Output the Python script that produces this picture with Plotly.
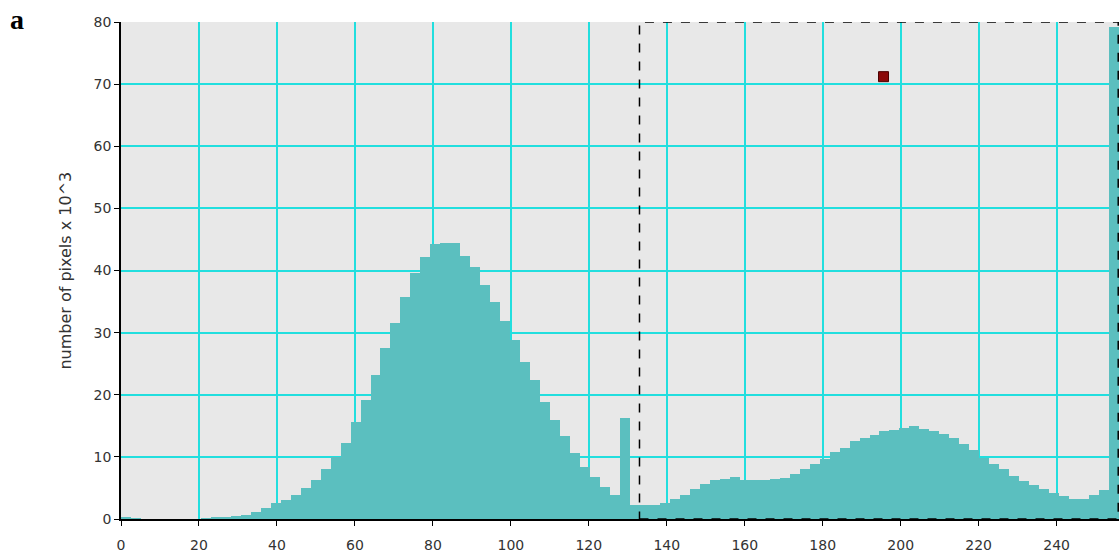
import numpy as np
import plotly.graph_objects as go

# histogram: 100 bins spanning 0..256 (values in thousands of pixels)
bin_edges = np.linspace(0, 256, 101)
counts = [
    0.3, 0.1, 0.0, 0.0, 0.0, 0.0, 0.0, 0.0, 0.15, 0.25,
    0.4, 0.5, 0.7, 1.2, 1.8, 2.5, 3.1, 3.9, 5.0, 6.3,
    8.1, 10.0, 12.3, 15.6, 19.2, 23.2, 27.5, 31.5, 35.8, 39.6,
    42.1, 44.3, 44.5, 44.5, 42.4, 40.5, 37.6, 35.0, 31.8, 28.8,
    25.3, 22.4, 18.9, 15.9, 13.3, 10.7, 8.4, 6.7, 5.2, 3.9,
    16.3, 2.3, 2.2, 2.2, 2.5, 3.3, 3.8, 4.8, 5.6, 6.2,
    6.5, 6.7, 6.3, 6.2, 6.2, 6.5, 6.6, 7.3, 8.0, 8.8,
    9.7, 10.8, 11.5, 12.6, 13.1, 13.6, 14.1, 14.3, 14.6, 14.9,
    14.5, 14.1, 13.7, 13.1, 12.1, 11.1, 9.9, 8.9, 8.0, 7.0,
    6.1, 5.4, 4.8, 4.2, 3.7, 3.3, 3.3, 3.8, 4.6, 79.2,
]

# selection box (x range, y range) and the marker point
sel_x = [133.0, 255.8]
sel_y = [0, 80]
marker_x = [195.6]
marker_y = [71.2]

x_ticks = list(range(0, 241, 20))
y_ticks = list(range(0, 81, 10))

centers = (bin_edges[:-1] + bin_edges[1:]) / 2
widths = np.diff(bin_edges)

fig = go.Figure()
fig.add_trace(go.Bar(
    x=centers, y=counts, width=widths,
    marker=dict(color="#5bbfbf", line=dict(width=0)),
    showlegend=False, hoverinfo="skip",
))
fig.add_trace(go.Scatter(
    x=marker_x, y=marker_y, mode="markers",
    marker=dict(symbol="square", size=10, color="#8b0a0a",
                line=dict(color="#4a0000", width=1)),
    showlegend=False, hoverinfo="skip",
))

fig.add_shape(type="rect", x0=sel_x[0], x1=sel_x[1], y0=sel_y[0], y1=sel_y[1],
              line=dict(color="black", width=1.5, dash="dash"), layer="above")

grid_col = "#22dede"
font = dict(family="DejaVu Sans", size=14, color="#333333")

fig.update_layout(
    width=1120, height=554,
    margin=dict(l=121, r=1, t=22, b=35),
    paper_bgcolor="white", plot_bgcolor="#e8e8e8",
    bargap=0, font=font,
    xaxis=dict(range=[0, 256], tickvals=x_ticks, showgrid=True, gridcolor=grid_col,
               gridwidth=2, zeroline=False, showline=True, linecolor="black",
               linewidth=1.5, ticks="outside", ticklen=5, tickcolor="black",
               tickfont=font, ticklabelstandoff=7),
    yaxis=dict(range=[0, 80], tickvals=y_ticks, showgrid=True, gridcolor=grid_col,
               gridwidth=2, zeroline=False, showline=True, linecolor="black",
               linewidth=1.5, ticks="outside", ticklen=5, tickcolor="black",
               tickfont=font),
    annotations=[
        dict(text="number of pixels x 10^3", textangle=-90, xref="paper", yref="paper",
             x=-0.056, y=0.5, xanchor="center", yanchor="middle", showarrow=False,
             font=dict(family="DejaVu Sans", size=16, color="#333333")),
        dict(text="<b>a</b>", xref="paper", yref="paper", x=-0.113, y=1.04,
             xanchor="left", yanchor="top", showarrow=False,
             font=dict(family="Liberation Serif", size=28, color="black")),
    ],
)

fig.write_html("out.html")
